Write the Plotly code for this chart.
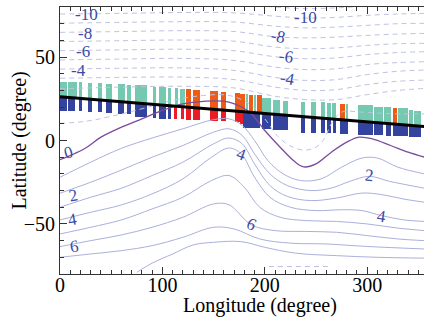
import numpy as np
import plotly.graph_objects as go

# ---------------- data ----------------
# black reference line
line_lon = [0, 360]
line_lat = [26.2, 8.1]

# upper segments (above the black line)
up_l = [0, 8.2, 18.6, 27.7, 37.4, 44.5, 56.2, 65.0, 73.7, 90.9, 96.5, 105.5, 112.0, 117.0,
        123.4, 129.9, 146.2, 156.9, 170.5, 175.6, 181.5, 184.7, 189.3, 192.5, 196.8, 208.1,
        217.8, 235.7, 245.5, 255.2, 260.7, 265.9, 273.0, 278.9, 290.8, 307.1, 316.8, 325.6,
        329.8, 341.2, 346.1]
up_r = [6.5, 16.3, 21.8, 30.9, 41.3, 51.0, 63.4, 69.2, 85.4, 94.2, 103.9, 108.8, 115.3, 121.8,
        128.2, 136.4, 154.2, 162.3, 175.4, 180.5, 183.7, 188.6, 191.9, 196.8, 206.5, 215.3,
        222.7, 238.9, 249.7, 258.4, 264.9, 269.8, 277.9, 281.1, 305.5, 315.2, 323.4, 328.8,
        339.5, 344.4, 352.6]
up_top = [35.0, 35.0, 34.8, 34.5, 34.3, 34.0, 33.7, 33.5, 33.0, 32.3, 32.0, 31.7, 31.3, 31.0,
          30.7, 30.5, 29.7, 29.3, 28.6, 27.7, 27.7, 27.5, 27.3, 27.0, 25.5, 24.3, 23.8, 23.1,
          23.0, 22.8, 22.7, 22.5, 21.8, 21.7, 21.2, 20.3, 19.8, 19.5, 19.2, 18.4, 17.8]
up_group = list("A" * 14 + "B" * 6 + "A" + "B" + "A" + "B" + "A" * 8 + "B" + "A" * 4 + "B" + "A" * 3)

# lower segments (below the black line)
lo_l = [0, 8.2, 18.6, 27.7, 37.4, 44.5, 56.8, 65.0, 73.7, 90.9, 96.5, 105.5, 111.4, 118.5,
        123.4, 129.9, 146.2, 156.9, 170.5, 175.6, 178.8, 196.8, 208.1, 235.7, 245.5, 255.2,
        260.7, 267.0, 273.0, 290.8, 307.1, 318.4, 325.6, 341.2]
lo_r = [6.5, 14.8, 21.8, 30.9, 41.3, 51.0, 62.7, 69.8, 85.4, 94.2, 103.9, 108.8, 114.6, 121.1,
        128.2, 136.4, 154.2, 162.3, 175.4, 178.8, 195.0, 206.5, 222.7, 238.9, 249.7, 258.4,
        264.9, 269.8, 281.1, 305.5, 315.2, 323.4, 339.5, 352.6]
lo_bot = [17.5, 17.5, 17.4, 17.1, 17.0, 16.3, 15.8, 15.6, 13.8, 13.3, 13.1, 13.1, 13.0, 12.6,
          12.3, 12.2, 11.8, 11.6, 10.9, 9.8, 7.5, 6.7, 6.4, 4.7, 4.7, 4.5, 4.5, 4.4, 4.0, 3.0,
          3.0, 2.8, 2.6, 2.4]
lo_group = list("C" * 12 + "D" * 8 + "C" * 14)

# negative contour levels (dashed)
neg_lon = [0, 60, 120, 170, 210, 240, 270, 300, 330, 356]
neg_11 = [81.0, 81.5, 82.0, 82.0, 80.0, 79.0, 79.5, 80.5, 81.0, 81.5]
neg_10 = [75.8, 76.2, 76.7, 76.5, 74.5, 73.4, 73.8, 75.0, 75.8, 76.2]
neg_9 = [70.3, 70.8, 71.2, 71.0, 68.5, 67.5, 68.0, 69.0, 70.0, 70.2]
neg_8 = [64.8, 65.3, 65.8, 65.3, 62.2, 61.5, 62.0, 63.0, 63.8, 64.2]
neg_7 = [59.3, 59.8, 60.2, 59.5, 56.0, 55.0, 55.5, 57.0, 58.0, 58.2]
neg_6 = [53.8, 54.3, 54.7, 53.8, 50.2, 49.0, 49.5, 51.5, 52.7, 53.2]
neg_5 = [48.3, 48.8, 49.2, 48.0, 44.0, 42.5, 43.0, 45.5, 46.7, 47.2]
neg_4 = [42.8, 43.3, 43.5, 42.0, 37.8, 36.0, 36.5, 39.5, 41.5, 42.2]
neg_3 = [37.3, 37.8, 38.0, 36.5, 32.0, 30.0, 30.5, 33.5, 35.5, 36.2]
neg_2 = [31.0, 32.0, 32.5, 31.5, 26.5, 24.5, 24.5, 27.5, 30.0, 31.2]
neg_1_lon = [0, 25, 50, 80, 110, 140, 165, 185, 200, 212, 224, 238, 250, 258, 265, 275, 295, 325, 356]
neg_1_lat = [10.3, 11.5, 14.5, 19, 24, 27, 27, 22, 13, 3, -3, -5.7, -4, 1, 10, 17, 17, 16, 16]

# zero contour
zero_lon = [0, 12, 25, 40, 60, 80, 100, 120, 140, 165, 185, 200, 215, 228, 238, 250, 265, 280, 292, 305, 323, 340, 356]
zero_lat = [-11.5, -8.5, -4.5, 2, 8, 13, 18, 22, 23.5, 23, 17, 6, -4, -12, -15.8, -14, -7, -1, 2, 1, -3, -7, -10]

# positive contour levels (solid)
pos1_lon = [0, 30, 60, 90, 120, 150, 165, 178, 190, 203, 218, 235, 255, 275, 295, 310, 330, 356]
pos1_lat = [-22, -13, -4.7, 1.5, 7, 12.5, 13, 9, 0, -12, -20, -24, -23, -16, -10.5, -10.5, -16, -20]
pos2_lon = [0, 30, 60, 90, 120, 150, 165, 178, 190, 205, 222, 245, 265, 283, 302, 322, 356]
pos2_lat = [-31.6, -25, -17.7, -10, -3, 5, 7, 3, -8, -20, -27, -30, -28.5, -24.5, -21.5, -24.5, -28.6]
pos3_lon = [0, 30, 60, 90, 120, 150, 165, 178, 190, 205, 222, 245, 270, 295, 315, 335, 356]
pos3_lat = [-40, -34, -28.6, -21, -13, -2, 1.5, -2, -14, -27, -33.5, -36, -34.5, -31.5, -32.5, -35, -37]
pos4_lon = [0, 30, 60, 90, 120, 148, 165, 177, 190, 205, 225, 250, 275, 295, 314, 335, 356]
pos4_lat = [-47.6, -43, -38.6, -32, -23, -10, -4.5, -8, -22, -34, -40, -42, -41.5, -42, -45, -47.5, -48.5]
pos5_lon = [0, 30, 60, 90, 120, 148, 165, 180, 195, 215, 240, 270, 300, 330, 356]
pos5_lat = [-56, -52, -47.6, -41, -34, -24, -21, -28, -40, -46, -48, -48.5, -50, -52.5, -54]
pos6_lon = [0, 30, 60, 90, 120, 150, 165, 187, 210, 240, 270, 300, 330, 356]
pos6_lat = [-63.6, -60, -56.6, -52, -46, -38, -38.5, -50.6, -54, -54.5, -55, -57, -59, -60]
pos7_lon = [0, 30, 60, 90, 120, 150, 170, 195, 225, 260, 300, 356]
pos7_lat = [-70, -68, -66, -63, -58, -52, -53, -59, -61.5, -62, -63.5, -65]
pos8_lon = [75, 90, 110, 130, 150, 177, 200, 230, 270, 310, 356]
pos8_lat = [-79, -73.5, -68, -62.6, -61, -60.6, -64, -67.5, -69, -70, -70.5]
low_dash_lon = [204, 265]
low_dash_lat = [-75.5, -75.5]

# contour labels
lab_text = ["-10", "-8", "-6", "-4", "-10", "-8", "-6", "-4", "0", "2", "4", "6", "4", "6", "2", "4"]
lab_lon = [25.5, 24.7, 22.3, 18.0, 240, 213, 220.6, 222, 8, 13.4, 12.6, 14, 177.6, 187.5, 302.5, 314]
lab_lat = [75.6, 64.2, 53.2, 41.8, 73.6, 62.2, 50.2, 36.9, -7, -32.7, -47.6, -63.6, -8.1, -50.6, -20.7, -45.7]
lab_angle = [0, 0, 0, 0, 0, 12, 8, 10, -15, -12, -10, -8, 20, 25, 5, 8]

# ---------------- figure ----------------
fig = go.Figure()

dash_col = "#bfc2e2"
pos_col = "#aab0dc"

for lats in [neg_11, neg_10, neg_9, neg_8, neg_7, neg_6, neg_5, neg_4, neg_3, neg_2]:
    fig.add_trace(go.Scatter(x=neg_lon, y=lats, mode="lines",
                             line=dict(color=dash_col, width=1, dash="5px,4px", shape="spline", smoothing=1.0),
                             hoverinfo="skip"))
fig.add_trace(go.Scatter(x=neg_1_lon, y=neg_1_lat, mode="lines",
                         line=dict(color=dash_col, width=1, dash="5px,4px", shape="spline", smoothing=1.0)))
fig.add_trace(go.Scatter(x=low_dash_lon, y=low_dash_lat, mode="lines",
                         line=dict(color=dash_col, width=1, dash="5px,4px")))

for lo, la in [(pos1_lon, pos1_lat), (pos2_lon, pos2_lat), (pos3_lon, pos3_lat), (pos4_lon, pos4_lat),
               (pos5_lon, pos5_lat), (pos6_lon, pos6_lat), (pos7_lon, pos7_lat), (pos8_lon, pos8_lat)]:
    fig.add_trace(go.Scatter(x=lo, y=la, mode="lines",
                             line=dict(color=pos_col, width=1, shape="spline", smoothing=1.0)))

fig.add_trace(go.Scatter(x=zero_lon, y=zero_lat, mode="lines",
                         line=dict(color="#7b4c9c", width=1.3, shape="spline", smoothing=1.0)))

# bars
colors = {"A": "#74c9b0", "B": "#ef5a16", "C": "#34449e", "D": "#ec1c24"}
up_c = np.array([(a + b) / 2 for a, b in zip(up_l, up_r)])
up_w = np.array(up_r) - np.array(up_l)
up_base = np.interp(up_c, line_lon, line_lat)
fig.add_trace(go.Bar(x=up_c, y=np.array(up_top) - up_base, base=up_base, width=up_w,
                     marker=dict(color=[colors[g] for g in up_group], line=dict(width=0))))
lo_c = np.array([(a + b) / 2 for a, b in zip(lo_l, lo_r)])
lo_w = np.array(lo_r) - np.array(lo_l)
lo_top = np.interp(lo_c, line_lon, line_lat)
fig.add_trace(go.Bar(x=lo_c, y=lo_top - np.array(lo_bot), base=lo_bot, width=lo_w,
                     marker=dict(color=[colors[g] for g in lo_group], line=dict(width=0))))

fig.add_trace(go.Scatter(x=line_lon, y=line_lat, mode="lines", line=dict(color="black", width=3)))

for t, x, y, a in zip(lab_text, lab_lon, lab_lat, lab_angle):
    fig.add_annotation(x=x, y=y, text=t, showarrow=False, borderpad=0, textangle=a,
                       font=dict(family="Liberation Serif", size=17, color="#3a4ba6"))

# axis titles
fig.add_annotation(xref="paper", yref="paper", x=0.549, y=0, yanchor="middle", yshift=-31,
                   text="Longitude (degree)", showarrow=False,
                   font=dict(family="Liberation Serif", size=20, color="black"))
fig.add_annotation(xref="paper", yref="paper", x=0, y=0.5, xanchor="center", xshift=-41,
                   text="Latitude (degree)", textangle=-90, showarrow=False,
                   font=dict(family="Liberation Serif", size=20, color="black"))

fig.update_layout(
    width=424, height=320,
    margin=dict(l=60, r=0, t=7, b=46),
    plot_bgcolor="white", paper_bgcolor="white",
    showlegend=False, barmode="overlay", bargap=0,
    font=dict(family="Liberation Serif", size=20, color="black"),
)
fig.update_xaxes(range=[0, 355.5], tickvals=[0, 100, 200, 300], ticks="inside", ticklen=7,
                 tickcolor="#333", showline=True, linecolor="#333", linewidth=1, mirror="ticks",
                 showgrid=False, zeroline=False, ticklabelstandoff=-7,
                 minor=dict(dtick=10, ticks="inside", ticklen=4, tickcolor="#333", showgrid=False),
                 tickfont=dict(size=20))
fig.update_yaxes(range=[-80, 80], tickvals=[-50, 0, 50], ticks="inside", ticklen=7,
                 tickcolor="#333", showline=True, linecolor="#333", linewidth=1, mirror=False,
                 showgrid=False, zeroline=False,
                 minor=dict(dtick=10, ticks="inside", ticklen=4, tickcolor="#333", showgrid=False),
                 tickfont=dict(size=20))

fig.write_html("out.html")
